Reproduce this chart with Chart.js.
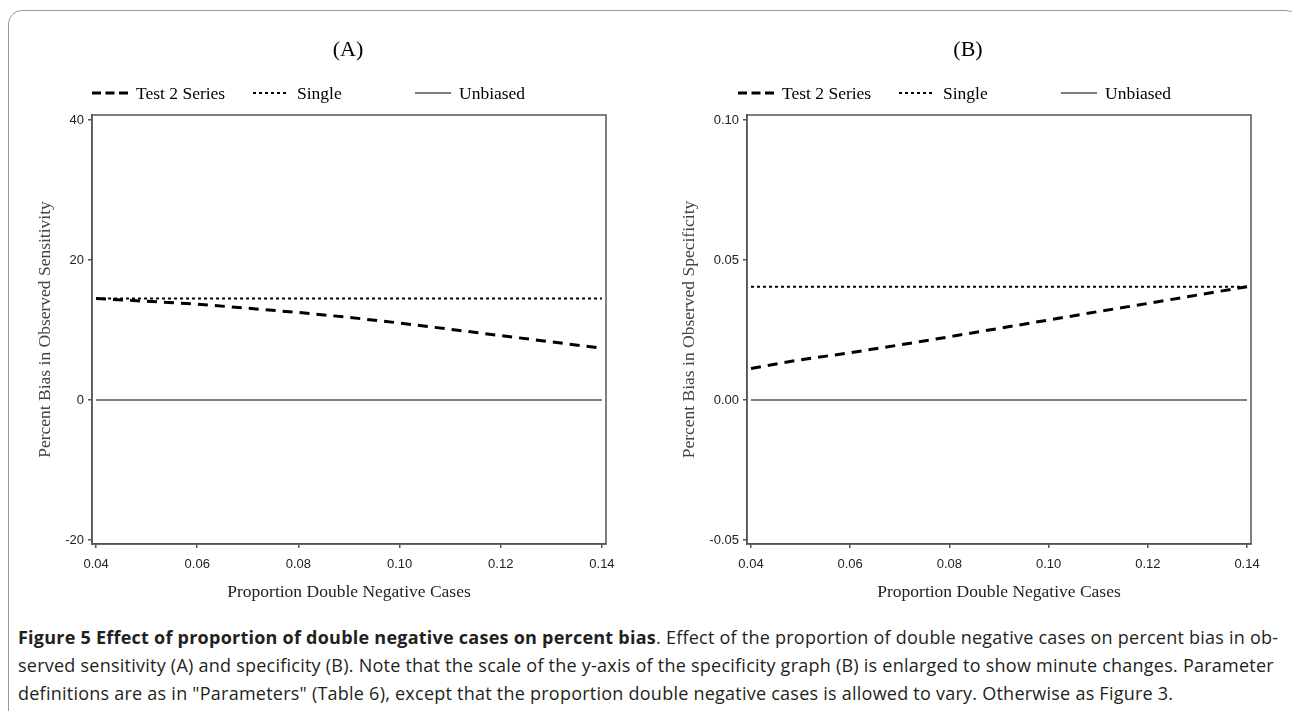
<!DOCTYPE html>
<html lang="en">
<head>
<meta charset="UTF-8">
<title>Figure 5</title>
<script src="https://cdn.jsdelivr.net/npm/chart.js"></script>
<style>
    body { margin: 0; background: #fff; width: 1292px; height: 711px; overflow: hidden; position: relative; }
    .frame { position: absolute; left: 8px; top: 10px; width: 1290px; height: 720px; border: 1px solid #9a9a9a; border-radius: 14px; }
    .panel { position: absolute; top: 0; width: 646px; height: 606px; }
    #panelA { left: 0; }
    #panelB { left: 646px; }
    .caption { position: absolute; left: 18px; top: 623px; font-family: "Liberation Sans Narrow", "Open Sans", sans-serif; font-size: 18px; letter-spacing: 0.24px; line-height: 28px; color: #231f20; white-space: nowrap; }
    .caption b { font-weight: bold; }
</style>
</head>
<body>
<div class="frame"></div>
<div class="panel" id="panelA"><canvas id="chartA" width="646" height="606"></canvas></div>
<div class="panel" id="panelB"><canvas id="chartB" width="646" height="606"></canvas></div>
<div class="caption">
    <b>Figure 5 Effect of proportion of double negative cases on percent bias</b>. Effect of the proportion of double negative cases on percent bias in ob-<br>
    served sensitivity (A) and specificity (B). Note that the scale of the y-axis of the specificity graph (B) is enlarged to show minute changes. Parameter<br>
    definitions are as in "Parameters" (Table 6), except that the proportion double negative cases is allowed to vary. Otherwise as Figure 3.
</div>
<script>
// proportion of double negative cases (x)
const proportions = [0.04, 0.05, 0.06, 0.07, 0.08, 0.09, 0.10, 0.11, 0.12, 0.13, 0.14];
const xTicks = [0.04, 0.06, 0.08, 0.10, 0.12, 0.14];

// (A) percent bias in observed sensitivity
const test2Sens = [14.5, 14.1, 13.7, 13.1, 12.5, 11.8, 11.0, 10.1, 9.2, 8.3, 7.4];
const singleSens = [14.5, 14.5, 14.5, 14.5, 14.5, 14.5, 14.5, 14.5, 14.5, 14.5, 14.5];
const unbiasedSens = [0, 0, 0, 0, 0, 0, 0, 0, 0, 0, 0];
const yTicksA = [-20, 0, 20, 40];

// (B) percent bias in observed specificity
const test2Spec = [0.0113, 0.0144, 0.0169, 0.0197, 0.0226, 0.0256, 0.0286, 0.0316, 0.0345, 0.0375, 0.0405];
const singleSpec = [0.0405, 0.0405, 0.0405, 0.0405, 0.0405, 0.0405, 0.0405, 0.0405, 0.0405, 0.0405, 0.0405];
const unbiasedSpec = [0, 0, 0, 0, 0, 0, 0, 0, 0, 0, 0];
const yTicksB = [-0.05, 0.00, 0.05, 0.10];

const SERIF = '"Liberation Serif", "Times New Roman", serif';
const SANS = '"Liberation Sans", Arial, sans-serif';

function points(ys) {
    return proportions.map((x, i) => ({ x: x, y: ys[i] }));
}

function makeDatasets(test2, single, unbiased) {
    return [
        { label: 'Test 2 Series', data: points(test2), borderColor: '#000', borderWidth: 3, borderDash: [10, 7], sampleDash: [9, 4.5] },
        { label: 'Single', data: points(single), borderColor: '#000', borderWidth: 2, borderDash: [3, 3], sampleDash: [3, 3] },
        { label: 'Unbiased', data: points(unbiased), borderColor: '#555', borderWidth: 1.5, borderDash: [], sampleDash: [] }
    ];
}

// title, legend row and box frame around the plot area
const panelDecor = {
    id: 'panelDecor',
    afterDraw(chart, args, opts) {
        const ctx = chart.ctx;
        const area = chart.chartArea;
        ctx.save();
        ctx.strokeStyle = '#555';
        ctx.lineWidth = 1.5;
        ctx.strokeRect(area.left, area.top, area.right - area.left, area.bottom - area.top);

        ctx.fillStyle = '#000';
        ctx.font = '22px ' + SERIF;
        ctx.textAlign = 'center';
        ctx.textBaseline = 'middle';
        ctx.fillText(opts.title, opts.titleX, 50);

        ctx.font = '17.5px ' + SERIF;
        ctx.textAlign = 'left';
        chart.data.datasets.forEach((ds, i) => {
            const x0 = opts.legendX[i];
            const y = 93;
            ctx.beginPath();
            ctx.setLineDash(ds.sampleDash);
            ctx.lineWidth = i === 2 ? 1 : ds.borderWidth;
            ctx.strokeStyle = '#000';
            ctx.moveTo(x0, y);
            ctx.lineTo(x0 + 36, y);
            ctx.stroke();
            ctx.setLineDash([]);
            ctx.fillText(ds.label, x0 + 44, y + 1);
        });
        ctx.restore();
    }
};

function buildChart(id, datasets, cfg) {
    return new Chart(document.getElementById(id), {
        type: 'line',
        data: { datasets: datasets },
        options: {
            responsive: false,
            animation: false,
            events: [],
            layout: { padding: { top: 115, left: cfg.padLeft, right: cfg.padRight, bottom: 0 } },
            elements: { point: { radius: 0 }, line: { tension: 0 } },
            plugins: {
                legend: { display: false },
                tooltip: { enabled: false },
                panelDecor: { title: cfg.title, titleX: cfg.titleX, legendX: [92, 253, 415] }
            },
            scales: {
                x: {
                    type: 'linear',
                    min: 0.0392,
                    max: 0.1408,
                    afterBuildTicks: axis => { axis.ticks = xTicks.map(v => ({ value: v })); },
                    afterFit: axis => { axis.height = 62; },
                    grid: { display: true, drawOnChartArea: false, drawTicks: true, tickLength: 4, color: '#555', lineWidth: 1.5 },
                    border: { display: true, color: '#555', width: 1.5 },
                    ticks: { font: { family: SANS, size: 13 }, color: '#222', padding: 9, maxRotation: 0, callback: v => v.toFixed(2) },
                    title: { display: true, text: 'Proportion Double Negative Cases', font: { family: SERIF, size: 17.5 }, color: '#222', padding: { top: 4, bottom: 3 } }
                },
                y: {
                    min: cfg.yMin,
                    max: cfg.yMax,
                    afterBuildTicks: axis => { axis.ticks = cfg.yTicks.map(v => ({ value: v })); },
                    afterFit: axis => { axis.width = cfg.yWidth; },
                    grid: { display: true, drawOnChartArea: false, drawTicks: true, tickLength: 4, color: '#555', lineWidth: 1.5 },
                    border: { display: true, color: '#555', width: 1.5 },
                    ticks: { font: { family: SANS, size: 13 }, color: '#222', padding: 4, callback: cfg.yFormat },
                    title: { display: true, text: cfg.yTitle, font: { family: SERIF, size: 17.5 }, color: '#444', padding: { top: 3, bottom: 4 } }
                }
            }
        },
        plugins: [panelDecor]
    });
}

buildChart('chartA', makeDatasets(test2Sens, singleSens, unbiasedSens), {
    title: '(A)', titleX: 348,
    padLeft: 32, padRight: 40, yWidth: 60,
    yMin: -20.57, yMax: 40.71, yTicks: yTicksA,
    yFormat: v => String(v),
    yTitle: 'Percent Bias in Observed Sensitivity'
});

buildChart('chartB', makeDatasets(test2Spec, singleSpec, unbiasedSpec), {
    title: '(B)', titleX: 322,
    padLeft: 30, padRight: 41, yWidth: 71,
    yMin: -0.0514, yMax: 0.1018, yTicks: yTicksB,
    yFormat: v => v.toFixed(2),
    yTitle: 'Percent Bias in Observed Specificity'
});
</script>
</body>
</html>
